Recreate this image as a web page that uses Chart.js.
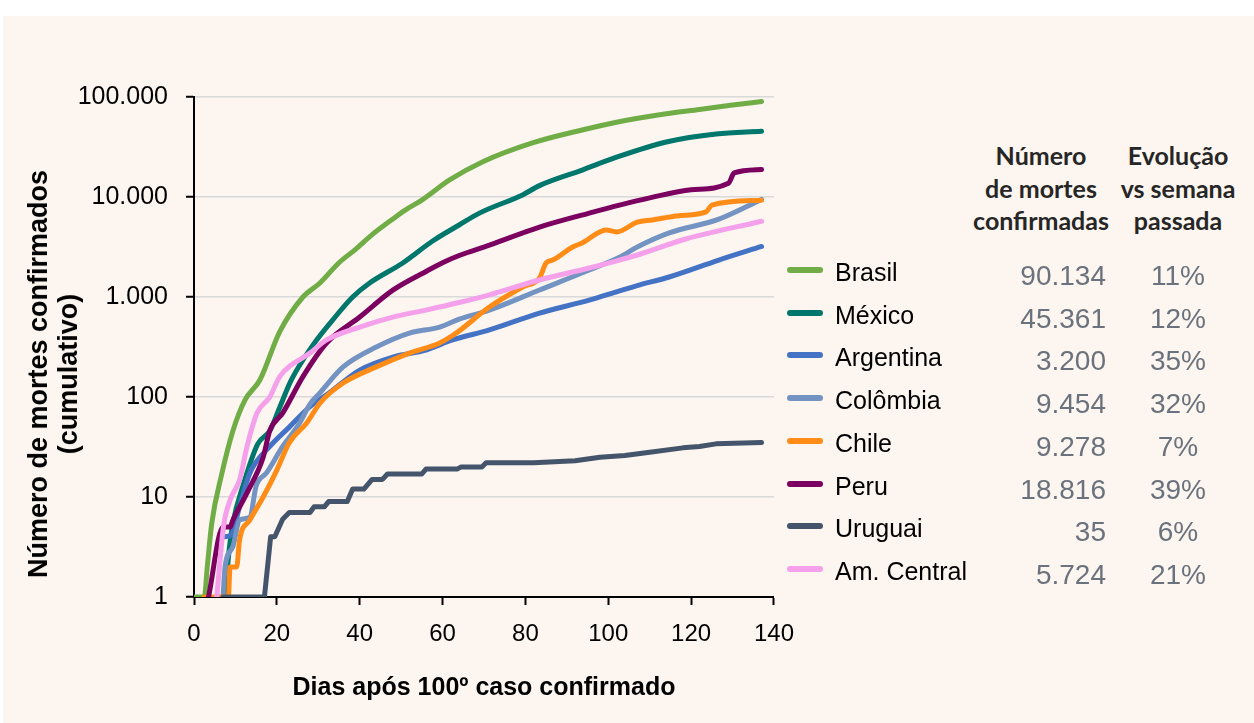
<!DOCTYPE html>
<html lang="pt">
<head>
<meta charset="utf-8">
<script src="https://cdn.jsdelivr.net/npm/chart.js@4.4.1/dist/chart.umd.min.js"></script>
<style>
  body { margin: 0; background: #fff; width: 1254px; height: 723px; overflow: hidden; font-family: "Liberation Sans", Arial, sans-serif; }
  #painel { position: absolute; left: 3px; top: 16px; width: 1251px; height: 707px; background: #FDF5EF; }
  #grafico { position: absolute; left: 0; top: 0; }
  #tituloY { position: absolute; left: 53px; top: 374px; transform: translate(-50%, -50%) rotate(-90deg);
             text-align: center; font-size: 27px; font-weight: bold; line-height: 30px; white-space: nowrap; color: #000; }
  .cab { position: absolute; top: 139px; font-family: Lato, "Open Sans", sans-serif; font-weight: bold; font-size: 25px;
         line-height: 32.5px; color: #262626; text-align: center; white-space: nowrap; transform: translateX(-50%); }
  .linha { position: absolute; left: 0; height: 40px; width: 1254px; }
  .traco { position: absolute; left: 787px; top: 17px; width: 36px; height: 6px; border-radius: 3px; }
  .nome { position: absolute; left: 835px; top: 2px; line-height: 40px; font-size: 25px; color: #000; }
  .valor { position: absolute; right: 148px; top: 6px; line-height: 40px; font-size: 28px; color: #6A737D; }
  .evol { position: absolute; left: 1178px; top: 6px; line-height: 40px; font-size: 28px; color: #6A737D; transform: translateX(-50%); }
</style>
</head>
<body>
<div id="painel"></div>
<canvas id="grafico" width="809" height="723"></canvas>
<div id="tituloY">Número de mortes confirmados<br>(cumulativo)</div>
<div class="cab" style="left:1041px">Número<br>de mortes<br>confirmadas</div>
<div class="cab" style="left:1178px">Evolução<br>vs semana<br>passada</div>
<div id="legenda"></div>
<script>
// Países e cores
const paises = ['Brasil', 'México', 'Argentina', 'Colômbia', 'Chile', 'Peru', 'Uruguai', 'Am. Central'];
const cores = ['#70AD47', '#00776C', '#4472C4', '#7394C2', '#FF8C17', '#7B0060', '#44546A', '#F5A0EA'];
const mortes = ['90.134', '45.361', '3.200', '9.454', '9.278', '18.816', '35', '5.724'];
const evolucao = ['11%', '12%', '35%', '32%', '7%', '39%', '6%', '21%'];
const ticksY = [1, 10, 100, 1000, 10000, 100000];

// Dias após o 100º caso e mortes acumuladas
const diasBrasil = [0, 2.5, 3.2, 4.3, 6.7, 9.4, 12.3, 15.9, 20.7, 26.3, 30.4, 35, 39, 43, 48, 51, 55, 61.7, 69.6, 81.7, 93.7, 102, 114, 122, 130, 137];
const mortesBrasil = [1, 1, 2, 5.5, 17, 46, 93, 148, 450, 1000, 1380, 2200, 3000, 4200, 6030, 7400, 9300, 14800, 22400, 34700, 46800, 56000, 68000, 75000, 83000, 90134];

const diasMexico = [7.5, 8.5, 9.4, 11.8, 15.4, 18.3, 20.7, 23.5, 28.7, 33.5, 38.3, 42.4, 50.4, 57.6, 64, 68.9, 79.3, 83.4, 93.7, 102, 114, 126, 137];
const mortesMexico = [1, 3, 5.5, 12.9, 34, 46, 79, 148, 330, 590, 1000, 1380, 2190, 3630, 5250, 6900, 10500, 13000, 18600, 25000, 35500, 42700, 45361];

const diasArgentina = [7.5, 9, 11, 13.5, 18.3, 23, 28, 32, 40, 48, 56, 62.4, 71.3, 83.4, 95.4, 102.7, 107, 114.7, 126.7, 137];
const mortesArgentina = [4, 4.2, 8, 17.4, 32, 50, 80, 105, 186, 251, 295, 372, 468, 690, 930, 1150, 1300, 1585, 2340, 3200];

const diasColombia = [7, 7.5, 9.4, 11, 13.5, 15, 17.5, 21.4, 25.5, 28, 30.4, 36, 44, 52, 59.3, 64, 71.3, 83.4, 95.4, 102.7, 107, 114.7, 126.7, 137];
const mortesColombia = [1, 2, 3.2, 5.9, 6.3, 12.9, 17.4, 32, 55, 85, 110, 200, 316, 436, 500, 600, 740, 1175, 1860, 2500, 3160, 4370, 6000, 9454];

const diasChile = [2.5, 8.3, 8.7, 10.3, 11, 13.5, 16.7, 20, 23, 27.2, 30.4, 36, 44, 52, 59.3, 63.3, 71.3, 79.3, 83.4, 85, 86.6, 91.4, 93.7, 99.5, 102, 107, 110.6, 117, 123.6, 125, 137];
const mortesChile = [1, 1, 2, 2, 3.7, 5.9, 10, 18.6, 35, 55, 87, 138, 200, 275, 347, 436, 794, 1260, 1550, 2190, 2340, 3160, 3470, 4680, 4470, 5620, 5900, 6500, 7100, 8300, 9278];

const diasPeru = [3.5, 7, 8.7, 9.4, 12.8, 16.7, 18.3, 21.4, 26.3, 32, 40, 48, 56, 60, 64, 71.3, 83.4, 95.4, 102.7, 110, 120, 129, 130.4, 137];
const mortesPeru = [1, 5, 5, 5.9, 11, 25, 46, 69, 160, 347, 630, 1170, 1800, 2200, 2600, 3300, 5000, 6900, 8300, 9800, 11800, 13700, 17400, 18816];

const diasUruguai = [7, 17, 18.5, 19.5, 21.4, 23, 28, 29, 31.5, 32.5, 37, 38.3, 41, 43, 45.5, 46.7, 55, 56, 63.5, 64.5, 69.5, 70.5, 82, 92, 98, 104, 110, 118, 122, 126, 137];
const mortesUruguai = [1, 1, 4, 4, 6, 7, 7, 8, 8, 9, 9, 12, 12, 15, 15, 17, 17, 19, 19, 20, 20, 22, 22, 23, 25, 26, 28, 31, 32, 34, 35];

const diasAmCentral = [5.5, 7.1, 8.7, 11, 12.8, 15.2, 18.3, 20.7, 28, 32, 40, 48, 56, 64, 71.3, 83.4, 95.4, 102.7, 107, 118.7, 137];
const mortesAmCentral = [1, 5, 9.3, 14.8, 32, 69, 100, 160, 275, 372, 500, 630, 740, 880, 1050, 1480, 1950, 2340, 2630, 3800, 5724];

const dias = [diasBrasil, diasMexico, diasArgentina, diasColombia, diasChile, diasPeru, diasUruguai, diasAmCentral];
const valores = [mortesBrasil, mortesMexico, mortesArgentina, mortesColombia, mortesChile, mortesPeru, mortesUruguai, mortesAmCentral];

// Monta a legenda em forma de tabela
function montarLegenda() {
    const legenda = document.getElementById('legenda');
    paises.forEach((pais, i) => {
        const linha = document.createElement('div');
        linha.className = 'linha';
        linha.style.top = (250 + 42.7 * i) + 'px';
        linha.innerHTML = `<div class="traco" style="background:${cores[i]}"></div>` +
            `<div class="nome">${pais}</div>` +
            `<div class="valor">${mortes[i]}</div>` +
            `<div class="evol">${evolucao[i]}</div>`;
        legenda.appendChild(linha);
    });
}

function formatarMilhar(v) {
    return v.toString().replace(/\B(?=(\d{3})+(?!\d))/g, '.');
}

// Configura o gráfico
function configurarGrafico() {
    const ctx = document.getElementById('grafico').getContext('2d');
    const datasets = paises.map((pais, i) => ({
        label: pais,
        data: dias[i].map((d, j) => ({ x: d, y: valores[i][j] })),
        borderColor: cores[i],
        backgroundColor: cores[i],
        borderWidth: 5,
        pointRadius: 0,
        cubicInterpolationMode: pais === 'Uruguai' ? 'default' : 'monotone',
        tension: 0,
        borderJoinStyle: 'round',
        borderCapStyle: 'round',
        order: paises.length - 1 - i
    }));

    new Chart(ctx, {
        type: 'line',
        data: { datasets: datasets },
        options: {
            responsive: false,
            animation: false,
            layout: { padding: { top: 97, right: 25, left: 0, bottom: 0 } },
            plugins: { legend: { display: false }, tooltip: { enabled: false } },
            scales: {
                x: {
                    type: 'linear',
                    min: 0,
                    max: 140,
                    ticks: { stepSize: 20, color: '#000', padding: 15, font: { family: 'Liberation Sans', size: 24 } },
                    grid: { drawOnChartArea: false, tickLength: 8, tickColor: '#000', tickWidth: 2 },
                    border: { color: '#000', width: 2 },
                    title: {
                        display: true,
                        text: 'Dias após 100º caso confirmado',
                        color: '#000',
                        font: { family: 'Liberation Sans', size: 25, weight: 'bold' },
                        padding: { top: 0, bottom: 20 }
                    },
                    afterFit: scale => { scale.height = 126; }
                },
                y: {
                    type: 'logarithmic',
                    min: 1,
                    max: 100000,
                    afterBuildTicks: scale => { scale.ticks = ticksY.map(v => ({ value: v })); },
                    ticks: {
                        color: '#000',
                        padding: 18,
                        font: { family: 'Liberation Sans', size: 25 },
                        callback: v => formatarMilhar(v)
                    },
                    grid: { color: '#D9D9D9', lineWidth: 1.5, tickLength: 8, tickColor: '#000', tickWidth: 2 },
                    border: { color: '#000', width: 2 },
                    afterFit: scale => { scale.width = 194; }
                }
            }
        }
    });
}

montarLegenda();
configurarGrafico();
</script>
</body>
</html>
